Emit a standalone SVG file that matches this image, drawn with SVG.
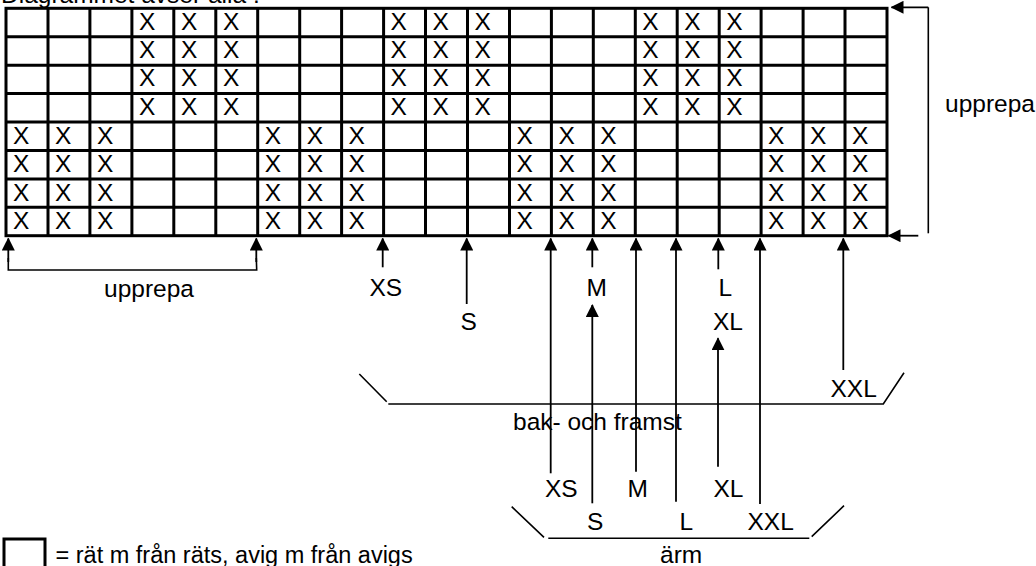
<svg xmlns="http://www.w3.org/2000/svg" width="1036" height="566" viewBox="0 0 1036 566">
<style>
text{font-family:"Liberation Sans",Arial,sans-serif;font-size:24.5px;fill:#000}
.lg{font-size:23.5px}
.g{stroke:#000;stroke-width:3;fill:none}
.c{stroke:#000;stroke-width:1.6;fill:none}
.a{stroke:#000;stroke-width:1.8;fill:none;marker-end:url(#ah)}
</style>
<defs>
<marker id="ah" markerWidth="13" markerHeight="13" viewBox="0 0 13 13" refX="12" refY="6.5" orient="auto" markerUnits="userSpaceOnUse">
<path d="M0,0 L13,6.5 L0,13 Z" fill="#000"/>
</marker>
</defs>
<rect width="1036" height="566" fill="#fff"/>
<g id="title"><text x="1" y="3">Diagrammet avser alla :</text></g>
<g id="grid">
<rect class="g" x="6" y="8.3" width="881" height="227.4"/>
<path class="g" d="M48,8.3V235.7M89.9,8.3V235.7M131.9,8.3V235.7M173.8,8.3V235.7M215.8,8.3V235.7M257.7,8.3V235.7M299.7,8.3V235.7M341.6,8.3V235.7M383.6,8.3V235.7M425.5,8.3V235.7M467.5,8.3V235.7M509.5,8.3V235.7M551.4,8.3V235.7M593.3,8.3V235.7M635.3,8.3V235.7M677.2,8.3V235.7M719.2,8.3V235.7M761.1,8.3V235.7M803.1,8.3V235.7M845,8.3V235.7M6,36.7H887M6,65.2H887M6,93.6H887M6,122H887M6,150.5H887M6,178.9H887M6,207.3H887"/>
<g id="xs-top">
<text x="139" y="29.5">X</text><text x="181" y="29.5">X</text><text x="223" y="29.5">X</text>
<text x="390.6" y="29.5">X</text><text x="432.5" y="29.5">X</text><text x="474.5" y="29.5">X</text>
<text x="642.3" y="29.5">X</text><text x="684.2" y="29.5">X</text><text x="726.2" y="29.5">X</text>
<text x="139" y="57.9">X</text><text x="181" y="57.9">X</text><text x="223" y="57.9">X</text>
<text x="390.6" y="57.9">X</text><text x="432.5" y="57.9">X</text><text x="474.5" y="57.9">X</text>
<text x="642.3" y="57.9">X</text><text x="684.2" y="57.9">X</text><text x="726.2" y="57.9">X</text>
<text x="139" y="86.3">X</text><text x="181" y="86.3">X</text><text x="223" y="86.3">X</text>
<text x="390.6" y="86.3">X</text><text x="432.5" y="86.3">X</text><text x="474.5" y="86.3">X</text>
<text x="642.3" y="86.3">X</text><text x="684.2" y="86.3">X</text><text x="726.2" y="86.3">X</text>
<text x="139" y="114.8">X</text><text x="181" y="114.8">X</text><text x="223" y="114.8">X</text>
<text x="390.6" y="114.8">X</text><text x="432.5" y="114.8">X</text><text x="474.5" y="114.8">X</text>
<text x="642.3" y="114.8">X</text><text x="684.2" y="114.8">X</text><text x="726.2" y="114.8">X</text>
</g>
<g id="xs-bottom">
<text x="13" y="143.8">X</text><text x="55" y="143.8">X</text><text x="96.9" y="143.8">X</text>
<text x="264.7" y="143.8">X</text><text x="306.7" y="143.8">X</text><text x="348.6" y="143.8">X</text>
<text x="516.5" y="143.8">X</text><text x="558.4" y="143.8">X</text><text x="600.3" y="143.8">X</text>
<text x="768.1" y="143.8">X</text><text x="810.1" y="143.8">X</text><text x="852" y="143.8">X</text>
<text x="13" y="172.2">X</text><text x="55" y="172.2">X</text><text x="96.9" y="172.2">X</text>
<text x="264.7" y="172.2">X</text><text x="306.7" y="172.2">X</text><text x="348.6" y="172.2">X</text>
<text x="516.5" y="172.2">X</text><text x="558.4" y="172.2">X</text><text x="600.3" y="172.2">X</text>
<text x="768.1" y="172.2">X</text><text x="810.1" y="172.2">X</text><text x="852" y="172.2">X</text>
<text x="13" y="200.6">X</text><text x="55" y="200.6">X</text><text x="96.9" y="200.6">X</text>
<text x="264.7" y="200.6">X</text><text x="306.7" y="200.6">X</text><text x="348.6" y="200.6">X</text>
<text x="516.5" y="200.6">X</text><text x="558.4" y="200.6">X</text><text x="600.3" y="200.6">X</text>
<text x="768.1" y="200.6">X</text><text x="810.1" y="200.6">X</text><text x="852" y="200.6">X</text>
<text x="13" y="229.1">X</text><text x="55" y="229.1">X</text><text x="96.9" y="229.1">X</text>
<text x="264.7" y="229.1">X</text><text x="306.7" y="229.1">X</text><text x="348.6" y="229.1">X</text>
<text x="516.5" y="229.1">X</text><text x="558.4" y="229.1">X</text><text x="600.3" y="229.1">X</text>
<text x="768.1" y="229.1">X</text><text x="810.1" y="229.1">X</text><text x="852" y="229.1">X</text>
</g>
</g>
<g id="connectors">
<path class="c" d="M928.3,7.3V233.3"/>
<path class="a" d="M928.3,7.3H891.5"/>
<path class="a" d="M918.3,235.7H888.5"/>
<path class="c" d="M8.3,258V270H256.7L256.3,258"/>
<path class="a" d="M8.3,262V238.5"/>
<path class="a" d="M256.3,262V238.5"/>
<path class="a" d="M382.7,267.3V238.5"/>
<path class="a" d="M466.7,304V238.5"/>
<path class="a" d="M550.7,473.3V238.5"/>
<path class="a" d="M592.3,267.3V238.5"/>
<path class="a" d="M592.3,503.3V305"/>
<path class="a" d="M636,471.7V238.5"/>
<path class="a" d="M676,501.7V238.5"/>
<path class="a" d="M718.3,269.3V238.5"/>
<path class="a" d="M718,466.7V338.3"/>
<path class="a" d="M760,504V238.5"/>
<path class="a" d="M843.3,370V238.5"/>
<path class="c" d="M359.3,374L386.7,401.7M388.3,404H883.3L904,372.7"/>
<path class="c" d="M511.7,506.7L544,537.3M548.3,538.3H809.3M811.7,536.7L844,505.7"/>
</g>
<g id="label-upprepa-right"><text x="945" y="112">upprepa</text></g>
<g id="label-upprepa-bottom"><text x="104" y="297">upprepa</text></g>
<g id="labels-body">
<text x="369.5" y="296">XS</text>
<text x="460.5" y="330">S</text>
<text x="586.5" y="296">M</text>
<text x="718.5" y="296">L</text>
<text x="713" y="330">XL</text>
<text x="830.5" y="397">XXL</text>
<text x="513" y="430">bak- och framst</text>
</g>
<g id="labels-sleeve">
<text x="545" y="497">XS</text>
<text x="627.5" y="497">M</text>
<text x="713.5" y="497">XL</text>
<text x="587" y="530">S</text>
<text x="679.5" y="530">L</text>
<text x="747.5" y="530">XXL</text>
<text x="660" y="563">ärm</text>
</g>
<g id="legend">
<path class="g" d="M4,570V539H45V570"/>
<text class="lg" x="55.5" y="563">= rät m från räts, avig m från avigs</text>
</g>
</svg>
